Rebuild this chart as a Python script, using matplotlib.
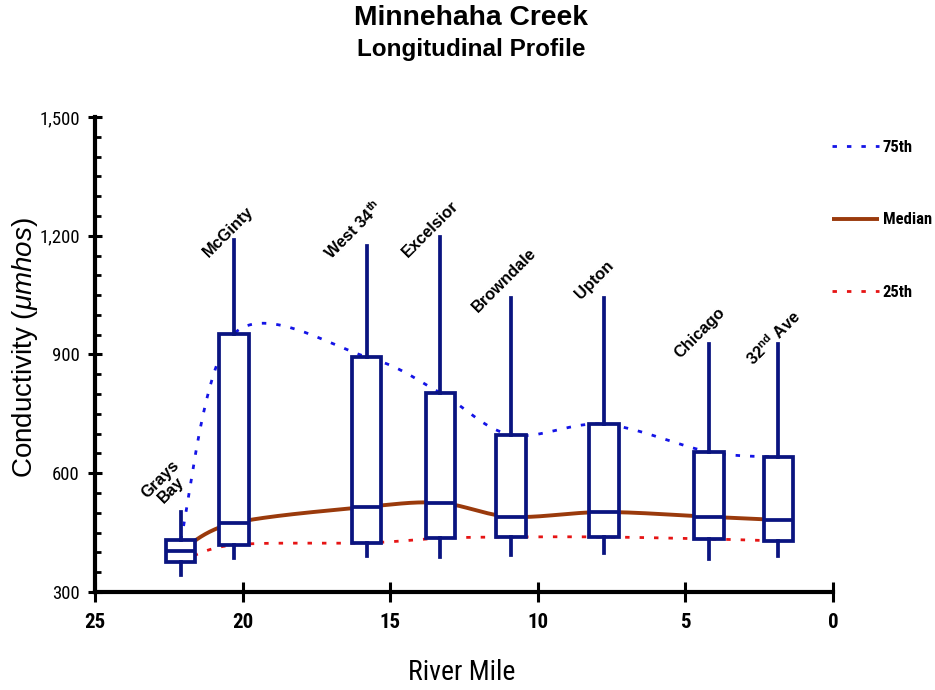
import numpy as np
import matplotlib
matplotlib.use("Agg")
import matplotlib.pyplot as plt
from matplotlib.ticker import MultipleLocator, FuncFormatter

# ---------------- data ----------------
stations = ["Grays\nBay", "McGinty", r"West 34$^{\mathregular{th}}$", "Excelsior",
            "Browndale", "Upton", "Chicago", r"32$^{\mathregular{nd}}$ Ave"]
river_mile = [22.1, 20.3, 15.8, 13.3, 10.9, 7.75, 4.2, 1.85]
minimum = [343, 386, 391, 388, 393, 398, 383, 391]
pct25 = [376, 419, 424, 436, 439, 439, 434, 429]
median = [404, 474, 515, 525, 490, 502, 490, 482]
pct75 = [431, 952, 894, 803, 697, 724, 654, 641]
maximum = [502, 1189, 1174, 1197, 1043, 1043, 927, 927]
x_ticks = [25, 20, 15, 10, 5, 0]
y_ticks = [300, 600, 900, 1200, 1500]

# label offsets (pixels) of each station name from its whisker top
label_offsets = [(-15, 27), (-5, 8), (-13, 16), (-10, 8), (-7, 18), (-10, 18), (-9, 11), (-5, 6)]

NAVY = "#0A1480"
BLUE = "#1414E6"
RED = "#E61414"
BROWN = "#9A3A0C"

narrow = ["Roboto Condensed", "Liberation Sans", "DejaVu Sans"]
sans = ["Liberation Sans", "DejaVu Sans"]

plt.rcParams["font.family"] = sans
plt.rcParams["mathtext.fontset"] = "custom"
plt.rcParams["mathtext.rm"] = "Liberation Sans"
plt.rcParams["mathtext.it"] = "Liberation Sans:italic"
plt.rcParams["mathtext.bf"] = "Liberation Sans:bold"


def smooth(x, y, n=40):
    """Excel-style smoothed line (Catmull-Rom Bezier) through the data points."""
    P = np.column_stack([x, y]).astype(float)
    out = []
    for i in range(len(P) - 1):
        p0 = P[i - 1] if i > 0 else P[i]
        p1, p2 = P[i], P[i + 1]
        p3 = P[i + 2] if i + 2 < len(P) else P[i + 1]
        c1 = p1 + (p2 - p0) / 6.0
        c2 = p2 - (p3 - p1) / 6.0
        t = np.linspace(0, 1, n)[:, None]
        seg = (1 - t) ** 3 * p1 + 3 * (1 - t) ** 2 * t * c1 + 3 * (1 - t) * t ** 2 * c2 + t ** 3 * p2
        out.append(seg if i == 0 else seg[1:])
    return np.vstack(out)


fig = plt.figure(figsize=(9.35, 6.9), dpi=100)
ax = fig.add_axes([95 / 935, 1 - 592 / 690, 738 / 935, 475 / 690])

# smoothed percentile lines
s75 = smooth(river_mile, pct75)
smed = smooth(river_mile, median)
s25 = smooth(river_mile, pct25)
ax.plot(s75[:, 0], s75[:, 1], color=BLUE, lw=2.0, dashes=(1.6, 3.6), label="75th", zorder=2)
ax.plot(smed[:, 0], smed[:, 1], color=BROWN, lw=2.8, label="Median", zorder=2, solid_capstyle="butt")
ax.plot(s25[:, 0], s25[:, 1], color=RED, lw=2.0, dashes=(1.6, 3.6), label="25th", zorder=2)

# boxes
stats = [dict(med=m, q1=a, q3=b, whislo=lo, whishi=hi, fliers=[])
         for m, a, b, lo, hi in zip(median, pct25, pct75, minimum, maximum)]
ax.bxp(stats, positions=river_mile, widths=1.0, showfliers=False, showcaps=False,
       patch_artist=True, manage_ticks=False, zorder=3,
       boxprops=dict(facecolor="white", edgecolor=NAVY, linewidth=2.7),
       whiskerprops=dict(color=NAVY, linewidth=2.7),
       medianprops=dict(color=NAVY, linewidth=2.7))

# station labels
for name, xm, top, (dx, dy) in zip(stations, river_mile, maximum, label_offsets):
    ax.annotate(name, xy=(xm, top), xytext=(dx, dy), textcoords="offset pixels",
                rotation=45, ha="center", va="center", fontsize=11.8,
                fontweight="bold", family=sans, multialignment="center",
                linespacing=1.0, zorder=5, annotation_clip=False)

# axes styling
ax.set_xlim(25, 0)
ax.set_ylim(300, 1500)
ax.set_xticks(x_ticks)
ax.set_xticklabels([str(v) for v in x_ticks])
ax.set_yticks(y_ticks)
ax.yaxis.set_major_formatter(FuncFormatter(lambda v, p: f"{v:,.0f}"))
ax.yaxis.set_minor_locator(MultipleLocator(50))
for s in ("top", "right"):
    ax.spines[s].set_visible(False)
for s in ("left", "bottom"):
    ax.spines[s].set_linewidth(3)
ax.tick_params(axis="x", which="major", direction="inout", length=14, width=2.2, pad=8)
ax.tick_params(axis="y", which="major", direction="inout", length=10, width=2.2, pad=6)
ax.tick_params(axis="y", which="minor", direction="in", length=4, width=2.0)
for lab in ax.get_xticklabels():
    lab.set_family(narrow)
    lab.set_fontweight("bold")
    lab.set_fontsize(15)
for lab in ax.get_yticklabels():
    lab.set_family(narrow)
    lab.set_fontsize(13.5)

ax.set_xlabel("River Mile", fontsize=20, family=narrow)
ax.xaxis.set_label_coords(0.497, -0.14)
ax.set_ylabel(r"Conductivity ($\mu mhos$)", fontsize=20, family=sans)
ax.yaxis.set_label_coords(-0.075, 0.515)

# titles
fig.text(0.504, 0.974, "Minnehaha Creek", ha="center", va="center", fontsize=20.3, fontweight="bold")
fig.text(0.504, 0.928, "Longitudinal Profile", ha="center", va="center", fontsize=17.5, fontweight="bold")

# legend
leg = ax.legend(loc="upper left", bbox_to_anchor=(832 / 935, 1 - 140 / 690),
                bbox_transform=fig.transFigure, frameon=False, borderpad=0,
                borderaxespad=0, handlelength=2.8, handletextpad=0.25,
                labelspacing=3.45, prop=dict(family=narrow, weight="bold", size=12))

fig.savefig("out.png", dpi=100)
